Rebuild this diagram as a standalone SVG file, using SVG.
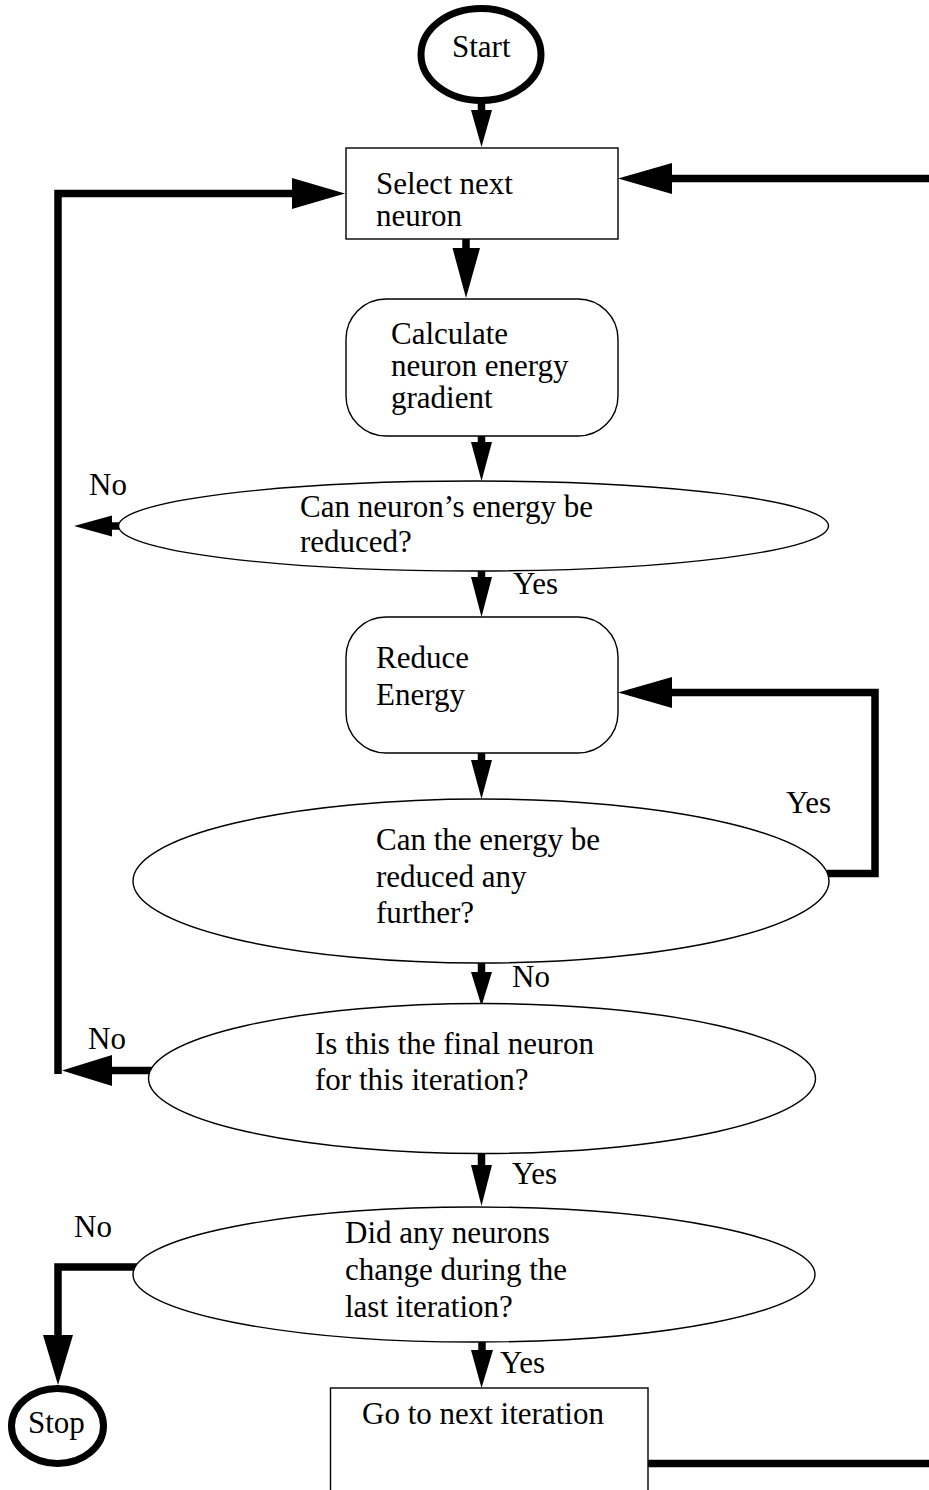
<svg xmlns="http://www.w3.org/2000/svg" width="929" height="1490" viewBox="0 0 929 1490">
<style>
.shape{fill:#fff;stroke:#000;stroke-width:1.4}
.term{fill:#fff;stroke:#000;stroke-width:7}
.t{font-family:"Liberation Serif","Times New Roman",serif;font-size:31px;fill:#000}
.line{fill:none;stroke:#000;stroke-width:7.5;stroke-linejoin:miter;stroke-linecap:butt}
.head{fill:#000;stroke:none}
</style>
<rect width="929" height="1490" fill="#fff"/>
<g id="connectors">
  <!-- Start -> Select -->
  <line class="line" x1="481.5" y1="100" x2="481.5" y2="111"/>
  <polygon class="head" points="471,110 492,110 481.5,147"/>
  <!-- Select -> Calculate -->
  <line class="line" x1="466" y1="239" x2="466" y2="249"/>
  <polygon class="head" points="452.5,248 480,248 466,298"/>
  <!-- Calculate -> E1 -->
  <line class="line" x1="481.5" y1="436" x2="481.5" y2="443"/>
  <polygon class="head" points="471,442 492,442 481.5,481"/>
  <!-- E1 No -->
  <line class="line" x1="122" y1="526" x2="111" y2="526"/>
  <polygon class="head" points="112,515.5 112,536.5 74,526"/>
  <!-- E1 -> Reduce -->
  <line class="line" x1="481.5" y1="569" x2="481.5" y2="578"/>
  <polygon class="head" points="471,577 492,577 481.5,617"/>
  <!-- Reduce -> E2 -->
  <line class="line" x1="481.5" y1="753" x2="481.5" y2="761"/>
  <polygon class="head" points="471,760 492,760 481.5,799"/>
  <!-- E2 Yes loop -->
  <polyline class="line" points="827,873.5 875,873.5 875,692.5 671,692.5"/>
  <polygon class="head" points="672,677 672,708 618,692.5"/>
  <!-- E2 -> E3 -->
  <line class="line" x1="481.5" y1="962" x2="481.5" y2="973"/>
  <polygon class="head" points="471,972 492,972 481.5,1006"/>
  <!-- E3 No loop to Select -->
  <line class="line" x1="153" y1="1070.5" x2="111" y2="1070.5"/>
  <polygon class="head" points="112,1055 112,1086 62,1070.5"/>
  <polyline class="line" points="58,1074 58,193.5 293,193.5"/>
  <polygon class="head" points="292,178 292,209 345,193.5"/>
  <!-- E3 -> E4 -->
  <line class="line" x1="481.5" y1="1152" x2="481.5" y2="1166"/>
  <polygon class="head" points="471,1165 492,1165 481.5,1206"/>
  <!-- E4 No -> Stop -->
  <polyline class="line" points="137,1267 58,1267 58,1336"/>
  <polygon class="head" points="43,1335 73,1335 58,1385"/>
  <!-- E4 -> Go -->
  <line class="line" x1="482" y1="1341" x2="482" y2="1351"/>
  <polygon class="head" points="471,1350 493,1350 481.5,1388"/>
  <!-- Go -> right -->
  <line class="line" x1="644" y1="1463.5" x2="929" y2="1463.5"/>
  <!-- right -> Select -->
  <line class="line" x1="929" y1="178.5" x2="671" y2="178.5"/>
  <polygon class="head" points="672,163 672,194 618,178.5"/>
</g>
<g id="start">
  <ellipse class="term" cx="481" cy="54.5" rx="60" ry="46"/>
  <text class="t" x="452" y="57">Start</text>
</g>
<g id="select">
  <rect class="shape" x="346" y="148" width="272" height="91"/>
  <text class="t" x="376" y="194">Select next</text>
  <text class="t" x="376" y="226">neuron</text>
</g>
<g id="calculate">
  <rect class="shape" x="346" y="299" width="272" height="137" rx="40" ry="40"/>
  <text class="t" x="391" y="344">Calculate</text>
  <text class="t" x="391" y="376">neuron energy</text>
  <text class="t" x="391" y="408">gradient</text>
</g>
<g id="decision1">
  <ellipse class="shape" cx="473.5" cy="526" rx="355" ry="45"/>
  <text class="t" x="300" y="517">Can neuron’s energy be</text>
  <text class="t" x="300" y="552">reduced?</text>
  <text class="t" x="89" y="495">No</text>
  <text class="t" x="513" y="594">Yes</text>
</g>
<g id="reduce">
  <rect class="shape" x="346" y="617" width="272" height="136" rx="40" ry="40"/>
  <text class="t" x="376" y="668">Reduce</text>
  <text class="t" x="376" y="705">Energy</text>
</g>
<g id="decision2">
  <ellipse class="shape" cx="481" cy="881" rx="348" ry="82"/>
  <text class="t" x="376" y="850">Can the energy be</text>
  <text class="t" x="376" y="887">reduced any</text>
  <text class="t" x="376" y="923">further?</text>
  <text class="t" x="786" y="813">Yes</text>
  <text class="t" x="512" y="987">No</text>
</g>
<g id="decision3">
  <ellipse class="shape" cx="482" cy="1078.5" rx="333.5" ry="75"/>
  <text class="t" x="315" y="1054">Is this the final neuron</text>
  <text class="t" x="315" y="1090">for this iteration?</text>
  <text class="t" x="88" y="1049">No</text>
  <text class="t" x="512" y="1184">Yes</text>
</g>
<g id="decision4">
  <ellipse class="shape" cx="474" cy="1274.5" rx="341" ry="67.5"/>
  <text class="t" x="345" y="1243">Did any neurons</text>
  <text class="t" x="345" y="1280">change during the</text>
  <text class="t" x="345" y="1317">last iteration?</text>
  <text class="t" x="74" y="1237">No</text>
  <text class="t" x="500" y="1373">Yes</text>
</g>
<g id="stop">
  <ellipse class="term" cx="57.5" cy="1426" rx="46" ry="37.5"/>
  <text class="t" x="28" y="1433">Stop</text>
</g>
<g id="next">
  <rect class="shape" x="330.5" y="1388" width="317.5" height="110"/>
  <text class="t" x="362" y="1424">Go to next iteration</text>
</g>
</svg>
